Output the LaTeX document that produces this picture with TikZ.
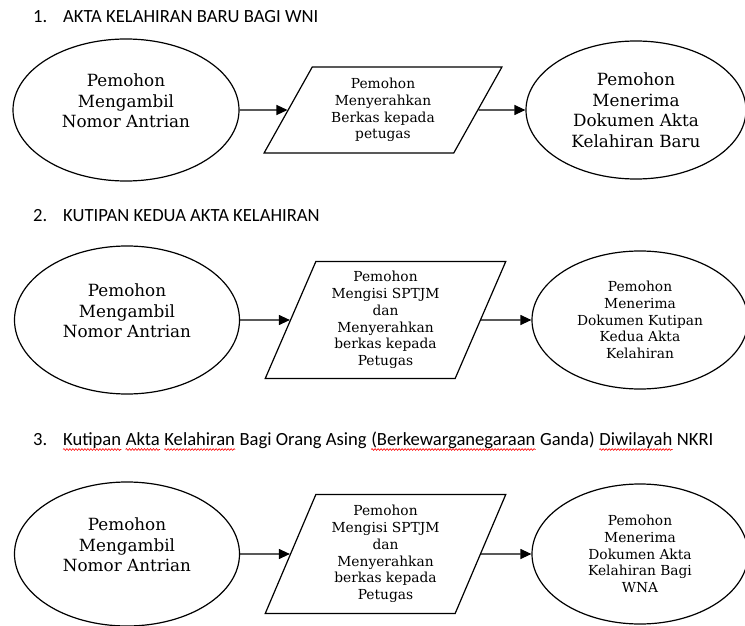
\documentclass[tikz,border=0pt]{standalone}
\usepackage{fontspec}
\setmainfont{Carlito}
\newfontfamily\kotak{DejaVu Serif}
\usetikzlibrary{shapes.geometric,arrows.meta,decorations.pathmorphing}

\begin{document}
\begin{tikzpicture}[x=1pt,y=-1pt,
    judul/.style={anchor=base west,inner sep=0pt,font=\fontsize{18.6}{22}\selectfont},
    mulai/.style={ellipse,draw,line width=1.2pt,inner sep=0pt,align=center,font=\kotak\fontsize{16.8}{20.5}\selectfont},
    teks/.style={inner sep=0pt,align=center,font=\kotak\fontsize{16.8}{20.5}\selectfont},
    selesai/.style={mulai,font=\kotak\fontsize{13.8}{16.7}\selectfont},
    proses/.style={trapezium,trapezium stretches=true,draw,line width=1.2pt,inner sep=0pt,align=center,font=\kotak\fontsize{13.8}{16.7}\selectfont},
    panah/.style={-{Triangle[length=11pt,width=10pt]},line width=1.2pt},
    salah/.style={red,line width=0.6pt,decorate,decoration={snake,amplitude=0.9pt,segment length=3pt}}]
    \useasboundingbox (0,0) rectangle (745,626);

    % 1. Akta kelahiran baru
    \node[judul] (n1) at (33,23) {1.};
    \node[judul] (j1) at (63,23) {AKTA KELAHIRAN BARU BAGI WNI};
    \node[mulai,minimum width=226pt,minimum height=142pt] (a1) at (126,110) {};
    \node[teks] at (126,101) {Pemohon\\Mengambil\\Nomor Antrian};
    \node[proses,trapezium left angle=61,trapezium right angle=119,minimum width=238pt,minimum height=86pt] (b1) at (383,110) {Pemohon\\Menyerahkan\\Berkas kepada\\petugas};
    \node[mulai,minimum width=220pt,minimum height=138pt] (c1) at (636,110) {Pemohon\\Menerima\\Dokumen Akta\\Kelahiran Baru};
    \draw[panah] (a1) -- (b1);
    \draw[panah] (b1) -- (c1);

    % 2. Kutipan kedua
    \node[judul] (n2) at (33,221) {2.};
    \node[judul] (j2) at (63,221) {KUTIPAN KEDUA AKTA KELAHIRAN};
    \node[mulai,minimum width=225pt,minimum height=148pt] (a2) at (127,320) {};
    \node[teks] at (127,311) {Pemohon\\Mengambil\\Nomor Antrian};
    \node[proses,trapezium left angle=68,trapezium right angle=112,minimum width=241pt,minimum height=117pt] (b2) at (385.5,320) {Pemohon\\Mengisi SPTJM\\dan\\Menyerahkan\\berkas kepada\\Petugas};
    \node[selesai,minimum width=216pt,minimum height=138pt] (c2) at (640,320) {Pemohon\\Menerima\\Dokumen Kutipan\\Kedua Akta\\Kelahiran};
    \draw[panah] (a2) -- (b2);
    \draw[panah] (b2) -- (c2);

    % 3. Kutipan untuk orang asing
    \node[judul] (n3) at (33,445) {3.};
    \node[judul] (k1) at (63,445) {Kutipan};
    \node[judul] (k2) at ([xshift=4.2pt]k1.base east) {Akta};
    \node[judul] (k3) at ([xshift=4.2pt]k2.base east) {Kelahiran};
    \node[judul] (k4) at ([xshift=4.2pt]k3.base east) {Bagi Orang Asing};
    \node[judul] (k5) at ([xshift=4.2pt]k4.base east) {(Berkewarganegaraan};
    \node[judul] (k6) at ([xshift=4.2pt]k5.base east) {Ganda)};
    \node[judul] (k7) at ([xshift=4.2pt]k6.base east) {Diwilayah};
    \node[judul] (k8) at ([xshift=4.2pt]k7.base east) {NKRI};
    \foreach \k in {k1,k2,k3,k5,k7}
        \draw[salah] ([yshift=-4.5pt]\k.base west) -- ([yshift=-4.5pt]\k.base east);
    \node[mulai,minimum width=225pt,minimum height=144pt] (a3) at (127,554) {};
    \node[teks] at (127,545) {Pemohon\\Mengambil\\Nomor Antrian};
    \node[proses,trapezium left angle=68,trapezium right angle=112,minimum width=241pt,minimum height=119pt] (b3) at (385.5,554) {Pemohon\\Mengisi SPTJM\\dan\\Menyerahkan\\berkas kepada\\Petugas};
    \node[selesai,minimum width=216pt,minimum height=140pt] (c3) at (640,554) {Pemohon\\Menerima\\Dokumen Akta\\Kelahiran Bagi\\WNA};
    \draw[panah] (a3) -- (b3);
    \draw[panah] (b3) -- (c3);
\end{tikzpicture}
\end{document}
